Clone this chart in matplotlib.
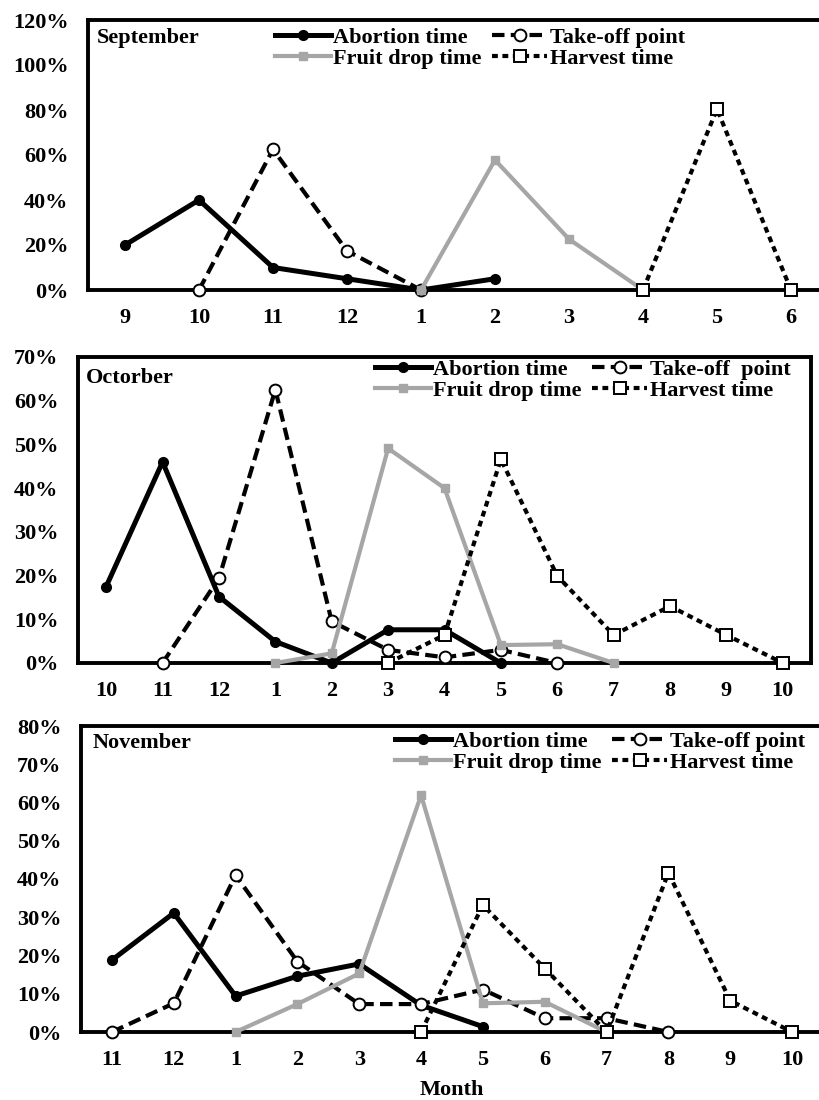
import numpy as np
import matplotlib
matplotlib.use("Agg")
import matplotlib.pyplot as plt
from matplotlib.ticker import FuncFormatter

nan = np.nan

# ---- Panel 1: September ----
sep_months = ["9", "10", "11", "12", "1", "2", "3", "4", "5", "6"]
sep_abortion = [20, 40, 10, 5, 0, 5, nan, nan, nan, nan]
sep_takeoff = [nan, 0, 62.5, 17.4, 0, nan, nan, nan, nan, nan]
sep_fruitdrop = [nan, nan, nan, nan, 0, 57.8, 22.6, 0, nan, nan]
sep_harvest = [nan, nan, nan, nan, nan, nan, nan, 0, 80.4, 0]

# ---- Panel 2: October ----
oct_months = ["10", "11", "12", "1", "2", "3", "4", "5", "6", "7", "8", "9", "10"]
oct_abortion = [17.5, 46, 15.2, 4.9, 0, 7.6, 7.6, 0, nan, nan, nan, nan, nan]
oct_takeoff = [nan, 0, 19.4, 62.5, 9.5, 3, 1.3, 3, 0, nan, nan, nan, nan]
oct_fruitdrop = [nan, nan, nan, 0, 2.2, 49.1, 40, 4.1, 4.3, 0, nan, nan, nan]
oct_harvest = [nan, nan, nan, nan, nan, 0, 6.4, 46.6, 19.9, 6.4, 13, 6.4, 0]

# ---- Panel 3: November ----
nov_months = ["11", "12", "1", "2", "3", "4", "5", "6", "7", "8", "9", "10"]
nov_abortion = [18.8, 31.1, 9.4, 14.6, 17.8, 7, 1.4, nan, nan, nan, nan, nan]
nov_takeoff = [0, 7.5, 41, 18.4, 7.3, 7.3, 11.1, 3.6, 3.6, 0, nan, nan]
nov_fruitdrop = [nan, nan, 0, 7.3, 15.3, 61.9, 7.5, 7.9, 0, nan, nan, nan]
nov_harvest = [nan, nan, nan, nan, nan, 0, 33.2, 16.6, 0, 41.6, 8.2, 0]

series_labels = ["Abortion time", "Take-off point", "Fruit drop time", "Harvest time"]

FONT = "Liberation Serif"
plt.rcParams["font.family"] = [FONT, "DejaVu Serif"]
plt.rcParams["font.weight"] = "bold"

fig = plt.figure(figsize=(8.19, 11.0), dpi=100)
fig.patch.set_facecolor("white")

W, H = 819.0, 1100.0

def axes_rect(left, right, top, bottom):
    return [left / W, 1 - bottom / H, (right - left) / W, (bottom - top) / H]

panels = [
    dict(rect=axes_rect(88, 828, 20, 290), months=sep_months, ymax=120, step=20,
         data=(sep_abortion, sep_takeoff, sep_fruitdrop, sep_harvest),
         title="September", tpos=(0.012, 0.933),
         leg=(275, 27), takeoff_label="Take-off point"),
    dict(rect=axes_rect(78, 811, 357, 663), months=oct_months, ymax=70, step=10,
         data=(oct_abortion, oct_takeoff, oct_fruitdrop, oct_harvest),
         title="Octorber", tpos=(0.011, 0.93),
         leg=(375, 359), takeoff_label="Take-off  point"),
    dict(rect=axes_rect(81, 823, 726, 1032), months=nov_months, ymax=80, step=10,
         data=(nov_abortion, nov_takeoff, nov_fruitdrop, nov_harvest),
         title="November", tpos=(0.015, 0.944),
         leg=(395, 731), takeoff_label="Take-off point"),
]

FS = 16
gray = "#a6a6a6"

for i, p in enumerate(panels):
    ax = fig.add_axes(p["rect"])
    n = len(p["months"])
    x = np.arange(n)
    ab, to, fd, hv = p["data"]

    l_ab, = ax.plot(x, ab, color="black", lw=3.6, marker="o", ms=7,
                    mfc="black", mec="black", label=series_labels[0], zorder=3)
    l_to, = ax.plot(x, to, color="black", lw=3.0, linestyle=(0, (3.0, 1.5)),
                    marker="o", ms=8.5, mfc="white", mec="black", mew=1.4,
                    label=p["takeoff_label"], zorder=4)
    l_fd, = ax.plot(x, fd, color=gray, lw=3.0, marker="s", ms=5.5,
                    mfc=gray, mec=gray, label=series_labels[2], zorder=5)
    l_hv, = ax.plot(x, hv, color="black", lw=3.0, linestyle=(0, (1.4, 1.1)),
                    marker="s", ms=8.5, mfc="white", mec="black", mew=1.4,
                    label=series_labels[3], zorder=6)

    ax.set_xlim(-0.5, n - 0.5)
    ax.set_ylim(0, p["ymax"])
    ax.set_xticks(x)
    ax.set_xticklabels(p["months"])
    ax.set_yticks(np.arange(0, p["ymax"] + 0.1, p["step"]))
    ax.yaxis.set_major_formatter(FuncFormatter(lambda v, pos: f"{int(round(v))}%"))
    ax.tick_params(axis="both", length=0, labelsize=FS)
    ax.tick_params(axis="x", pad=13)
    ax.tick_params(axis="y", pad=14)
    for lab in ax.get_xticklabels() + ax.get_yticklabels():
        lab.set_fontweight("bold")
    for s in ax.spines.values():
        s.set_linewidth(2.8)
        s.set_color("black")
    for l in (l_ab, l_to, l_fd, l_hv):
        l.set_clip_on(False)

    ax.text(p["tpos"][0], p["tpos"][1], p["title"], transform=ax.transAxes,
            fontsize=16, fontweight="bold", ha="left", va="center")

    lx, ly = p["leg"]
    ax.legend(handles=[l_ab, l_fd, l_to, l_hv], ncol=2, frameon=False,
              loc="upper left", bbox_to_anchor=(lx / W, 1 - ly / H),
              bbox_transform=fig.transFigure, borderpad=0, borderaxespad=0,
              handlelength=2.5, handletextpad=0.12, columnspacing=0.45,
              labelspacing=0.02, prop=dict(family=FONT, weight="bold", size=FS))

    if i == 2:
        ax.set_xlabel("Month", fontsize=FS, fontweight="bold", labelpad=7)

fig.savefig("out.png", dpi=100, facecolor="white")
